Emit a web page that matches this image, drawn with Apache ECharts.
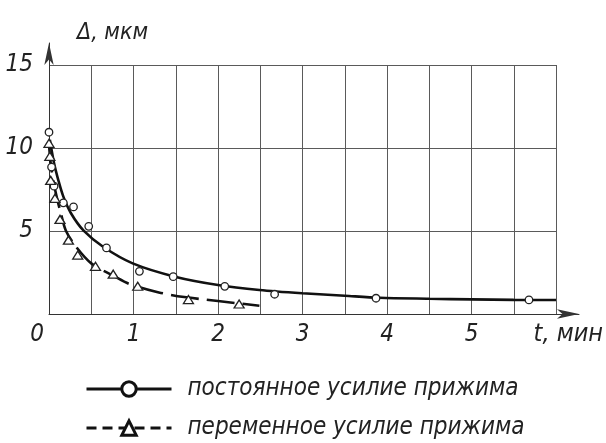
<!DOCTYPE html>
<html>
<head>
<meta charset="utf-8">
<script src="https://cdn.jsdelivr.net/npm/echarts@6/dist/echarts.min.js"></script>
<style>
html,body{margin:0;padding:0;background:#fff;}
#chart{width:606px;height:443px;}
</style>
</head>
<body>
<div id="chart"></div>
<script>
// ---- data ----
const seriesNames = ['постоянное усилие прижима', 'переменное усилие прижима'];
const xName = 't, мин';
const yName = 'Δ, мкм';
const xTickLabels = ['0', '1', '2', '3', '4', '5'];
const yTickLabels = ['5', '10', '15'];

// measured points: constant clamping force (circles)
const circT = [0, 0.03, 0.06, 0.17, 0.29, 0.47, 0.68, 1.07, 1.47, 2.08, 2.67, 3.87, 5.68];
const circV = [10.95, 8.85, 7.7, 6.7, 6.45, 5.28, 3.98, 2.57, 2.25, 1.67, 1.19, 0.95, 0.85];
// measured points: variable clamping force (triangles)
const triT = [0, 0.01, 0.02, 0.07, 0.13, 0.23, 0.34, 0.55, 0.76, 1.05, 1.65, 2.25];
const triV = [10.28, 9.5, 8.05, 6.97, 5.7, 4.45, 3.55, 2.87, 2.4, 1.67, 0.87, 0.6];
// fitted curves
const constCurveT = [0.01, 0.06, 0.11, 0.17, 0.26, 0.41, 0.64, 0.99, 1.49, 2.0, 2.49, 3.0, 3.5, 3.91, 4.5, 5.0, 5.5, 6.0];
const constCurveV = [10.5, 9.08, 8.07, 7.07, 6.07, 5.02, 4.05, 3.05, 2.25, 1.75, 1.45, 1.25, 1.1, 0.98, 0.92, 0.88, 0.85, 0.84];
const varCurveT = [0, 0.02, 0.05, 0.09, 0.14, 0.2, 0.32, 0.5, 0.78, 0.96, 1.3, 1.6, 2.0, 2.49];
const varCurveV = [10.2, 9.08, 8.07, 7.07, 6.07, 5.02, 4.05, 3.05, 2.25, 1.79, 1.3, 1.02, 0.78, 0.5];

const xMin = 0, xMax = 6, xStep = 0.5;
const yMin = 0, yMax = 15, yStep = 5;

// ---- chart ----
const FONT = "'Liberation Sans Narrow', 'DejaVu Sans Condensed', 'Liberation Sans', sans-serif";
const zip = (a, b) => a.map((v, i) => [v, b[i]]);
const TICK_FS = 24;

const chart = echarts.init(document.getElementById('chart'), null, {renderer: 'canvas'});
chart.setOption({
  backgroundColor: '#fff',
  animation: false,
  grid: [
    {left: 49, right: 50, top: 65, bottom: 129},
    {left: 49, right: 27, top: 43, bottom: 129}
  ],
  xAxis: [
    {
      gridIndex: 0, type: 'value', min: xMin, max: xMax, interval: xStep,
      axisLine: {show: false}, axisTick: {show: false},
      splitLine: {show: true, lineStyle: {color: '#5a5a5a', width: 1}},
      axisLabel: {
        margin: 9, fontFamily: FONT, fontStyle: 'italic', fontSize: TICK_FS, color: '#222',
        formatter: v => {
          const s = String(v);
          if (!xTickLabels.includes(s)) return '';
          return v === 0 ? '{z|0}' : s;
        },
        rich: {z: {fontFamily: FONT, fontStyle: 'italic', fontSize: TICK_FS, color: '#222', padding: [0, 24, 0, 0]}}
      }
    },
    {
      gridIndex: 1, type: 'value', min: 0, max: 1,
      axisLine: {show: true, symbol: ['none', 'arrow'], symbolSize: [7, 22], lineStyle: {color: '#333', width: 1}},
      axisTick: {show: false}, axisLabel: {show: false}, splitLine: {show: false},
      name: xName, nameLocation: 'end', nameGap: 24,
      nameTextStyle: {fontFamily: FONT, fontStyle: 'italic', fontSize: 25, color: '#222',
        align: 'right', verticalAlign: 'top', padding: [8, 0, 0, 0]}
    }
  ],
  yAxis: [
    {
      gridIndex: 0, type: 'value', min: yMin, max: yMax, interval: yStep,
      axisLine: {show: false}, axisTick: {show: false},
      splitLine: {show: true, lineStyle: {color: '#5a5a5a', width: 1}},
      axisLabel: {
        margin: 16, fontFamily: FONT, fontStyle: 'italic', fontSize: TICK_FS, color: '#222',
        formatter: v => (yTickLabels.includes(String(v)) ? String(v) : '')
      }
    },
    {
      gridIndex: 1, type: 'value', min: 0, max: 1,
      axisLine: {show: true, symbol: ['none', 'arrow'], symbolSize: [7, 22], lineStyle: {color: '#333', width: 1}},
      axisTick: {show: false}, axisLabel: {show: false}, splitLine: {show: false},
      name: yName, nameLocation: 'end', nameGap: -2,
      nameTextStyle: {fontFamily: FONT, fontStyle: 'italic', fontSize: 23, color: '#222',
        align: 'left', verticalAlign: 'bottom', padding: [0, 0, 0, 28]}
    }
  ],
  legend: {
    orient: 'vertical', left: 85, top: 377, padding: 0, height: 66,
    itemWidth: 85, itemHeight: 18, itemGap: 15,
    textStyle: {fontFamily: FONT, fontStyle: 'italic', fontSize: 24, color: '#222', padding: [0, 0, 0, 11]},
    itemStyle: {borderWidth: 3},
    lineStyle: {width: 3},
    data: [
      {name: seriesNames[0]},
      {name: seriesNames[1], lineStyle: {type: [10, 6], width: 3}}
    ]
  },
  series: [
    {
      name: seriesNames[0], type: 'line', xAxisIndex: 0, yAxisIndex: 0,
      data: zip(constCurveT, constCurveV), smooth: 0.3,
      symbol: 'circle', showSymbol: false, symbolSize: 8,
      lineStyle: {color: '#111', width: 2.6, type: 'solid'},
      itemStyle: {color: '#fff', borderColor: '#111', borderWidth: 2.5}, z: 3
    },
    {
      name: seriesNames[1], type: 'line', xAxisIndex: 0, yAxisIndex: 0,
      data: zip(varCurveT, varCurveV), smooth: 0.3,
      symbol: 'triangle', showSymbol: false, symbolSize: 8,
      lineStyle: {color: '#111', width: 2.6, type: [28, 8]},
      itemStyle: {color: '#fff', borderColor: '#111', borderWidth: 2.5}, z: 3
    },
    {
      name: 'pts-const', type: 'scatter', xAxisIndex: 0, yAxisIndex: 0,
      data: zip(circT, circV), symbol: 'circle', symbolSize: 7.5,
      itemStyle: {color: '#fff', borderColor: '#222', borderWidth: 1.3, opacity: 1}, z: 5
    },
    {
      name: 'pts-var', type: 'scatter', xAxisIndex: 0, yAxisIndex: 0,
      data: zip(triT, triV), symbol: 'triangle', symbolSize: [10, 8],
      itemStyle: {color: '#fff', borderColor: '#222', borderWidth: 1.3, opacity: 1}, z: 5
    }
  ]
});
</script>
</body>
</html>
